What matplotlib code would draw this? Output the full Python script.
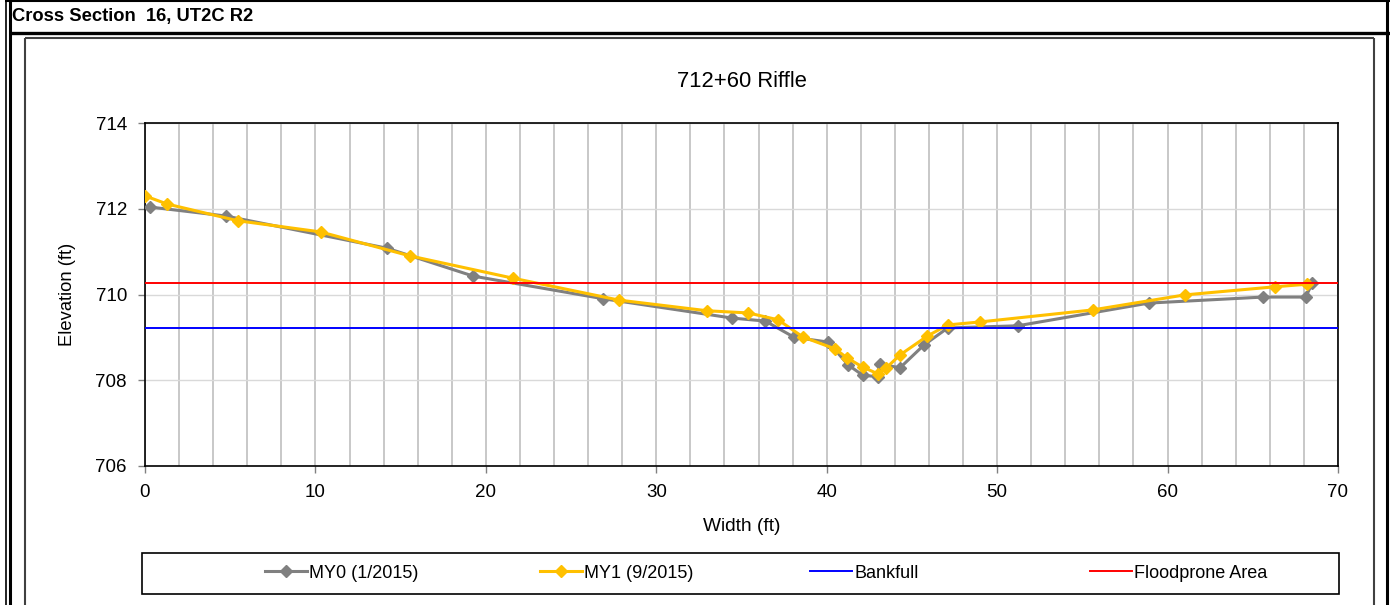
import numpy as np
import matplotlib
matplotlib.use("Agg")
import matplotlib.pyplot as plt
from matplotlib.lines import Line2D

plt.rcParams['font.family'] = ['Liberation Sans', 'DejaVu Sans']

# Survey data (station in ft, elevation in ft)
my0_x = [0.3, 4.75, 14.2, 19.25, 26.9, 34.45, 36.4, 38.1, 40.1, 41.25, 42.1,
         43.0, 43.1, 44.3, 45.7, 47.1, 51.2, 58.9, 65.6, 68.1, 68.5]
my0_y = [712.04, 711.83, 711.08, 710.43, 709.90, 709.45, 709.38, 709.00, 708.89,
         708.36, 708.12, 708.08, 708.38, 708.29, 708.82, 709.22, 709.27, 709.80,
         709.94, 709.94, 710.27]

my1_x = [0.0, 1.3, 5.45, 10.3, 15.55, 21.6, 27.8, 33.0, 35.4, 37.15, 38.6, 40.5,
         41.2, 42.1, 43.0, 43.5, 44.3, 45.9, 47.1, 49.0, 55.6, 61.0, 66.3, 68.2]
my1_y = [712.30, 712.11, 711.72, 711.46, 710.90, 710.38, 709.87, 709.62, 709.57,
         709.41, 709.01, 708.73, 708.52, 708.31, 708.15, 708.29, 708.59, 709.03,
         709.29, 709.36, 709.64, 709.99, 710.18, 710.24]

bankfull_x = [0, 70]
bankfull_y = [709.22, 709.22]
flood_x = [0, 70]
flood_y = [710.26, 710.26]

labels = ["MY0 (1/2015)", "MY1 (9/2015)", "Bankfull", "Floodprone Area"]

W, H = 1390, 605
fig = plt.figure(figsize=(W / 100, H / 100), dpi=100)


def fx(px):
    return px / W


def fy(py):
    return 1 - py / H


# page frame lines (pixel positions)
def frame_line(x0, y0, x1, y1, lw, color="black"):
    fig.add_artist(Line2D([fx(x0), fx(x1)], [fy(y0), fy(y1)], lw=lw, color=color,
                          transform=fig.transFigure, solid_capstyle="butt"))


frame_line(5, 1, 1390, 1, 1.5)
frame_line(5.5, 0, 5.5, 605, 1.2)
frame_line(9.5, 0, 9.5, 605, 2.2)
frame_line(1387, 0, 1387, 605, 2.2)
frame_line(9, 33, 1390, 33, 2.4)
frame_line(24.5, 37.5, 1373.5, 37.5, 1.5, "#404040")
frame_line(24.5, 37.5, 24.5, 605, 1.5, "#404040")
frame_line(1373.5, 37.5, 1373.5, 605, 1.5, "#404040")

fig.text(fx(12), fy(17), "Cross Section  16, UT2C R2", fontsize=13.2,
         fontweight="bold", ha="left", va="center")

ax = fig.add_axes([fx(145), fy(466), fx(1338) - fx(145), fy(123) - fy(466)])

ax.plot(my0_x, my0_y, color="#808080", lw=2.2, marker="D", ms=6, zorder=3)
ax.plot(my1_x, my1_y, color="#FFC000", lw=2.2, marker="D", ms=6, zorder=4)
ax.plot(bankfull_x, bankfull_y, color="#0000FF", lw=1.4, zorder=5)
ax.plot(flood_x, flood_y, color="#FF0000", lw=1.4, zorder=6)

ax.set_xlim(0, 70)
ax.set_ylim(706, 714)
ax.set_xticks(np.arange(0, 71, 10))
ax.set_xticks(np.arange(0, 71, 2), minor=True)
ax.set_yticks(np.arange(706, 715, 2))

ax.grid(True, which="minor", axis="x", color="#BFBFBF", lw=1.2)
ax.grid(True, which="major", axis="x", color="#BFBFBF", lw=1.2)
ax.grid(True, which="major", axis="y", color="#D9D9D9", lw=1.0)
ax.set_axisbelow(True)

ax.tick_params(axis="both", which="major", direction="out", length=5, width=1,
               color="#808080", labelsize=13.5, pad=8)
ax.tick_params(axis="x", which="minor", length=0)
for s in ax.spines.values():
    s.set_color("black")
    s.set_linewidth(1.2)

ax.set_xlabel("Width (ft)", fontsize=13.8, labelpad=12)
ax.set_ylabel("Elevation (ft)", fontsize=13.2, labelpad=14)
ax.set_title("712+60 Riffle", fontsize=15.8, pad=26)

# legend box
fig.add_artist(plt.Rectangle((fx(142), fy(594)), fx(1339) - fx(142), fy(553) - fy(594),
                             transform=fig.transFigure, fill=False, ec="black", lw=1.2))
handles = [
    Line2D([], [], color="#808080", lw=2.2, marker="D", ms=6),
    Line2D([], [], color="#FFC000", lw=2.2, marker="D", ms=6),
    Line2D([], [], color="#0000FF", lw=1.4),
    Line2D([], [], color="#FF0000", lw=1.4),
]
starts = [265, 540, 810, 1090]
for h, lab, x0 in zip(handles, labels, starts):
    fig.legend([h], [lab], loc="center left", bbox_to_anchor=(fx(x0), fy(573)),
               frameon=False, fontsize=13, handlelength=2.3, handletextpad=0.15,
               borderpad=0, borderaxespad=0, numpoints=1)

fig.savefig("out.png", dpi=100)
